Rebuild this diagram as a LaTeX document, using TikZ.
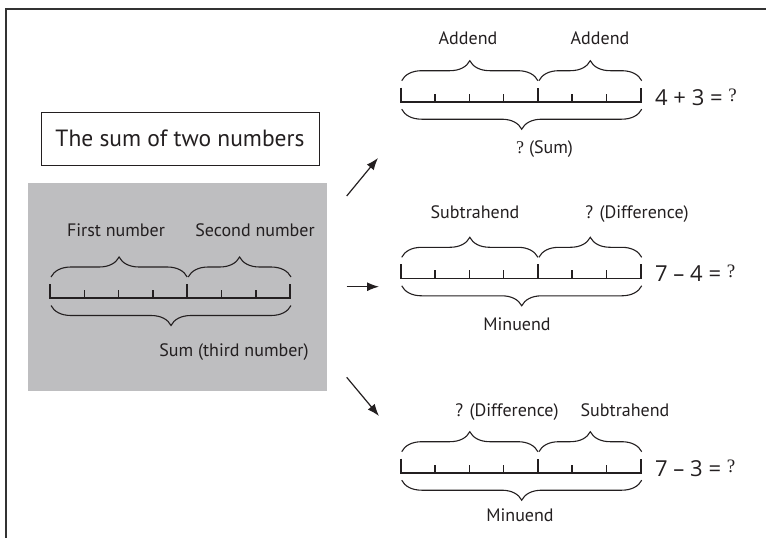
\documentclass[tikz,border=0pt]{standalone}
\usepackage{fontspec}
\setmainfont{PT Sans}
\newfontfamily\qfont{Liberation Serif}
\newfontfamily\eqfont[Ligatures=TeX]{Open Sans}
\usepackage{xcolor}
\usetikzlibrary{arrows.meta,positioning,decorations.pathreplacing}
\definecolor{ink}{RGB}{35,31,32}
\definecolor{panel}{RGB}{190,190,192}
\newcommand{\qm}{{\qfont ?}}
\newcommand{\eqq}{\raisebox{4pt}{\fontsize{19pt}{20pt}\qfont ?}}

% bar model: #1 = left end, #2 = base line (4 + 3 parts)
\newcommand{\barmodel}[2]{%
  \draw[rule] (#1,#2-14) -- (#1,#2) -- (#1+240,#2) -- (#1+240,#2-14);
  \draw[rule] (#1+137.2,#2) -- (#1+137.2,#2-14);
  \foreach \k in {1,2,3,5,6} \draw[rule] (#1+\k*34.3,#2) -- (#1+\k*34.3,#2-8);
  \draw[brc] (#1+1,#2-21) -- (#1+137.2,#2-21);
  \draw[brc] (#1+138.2,#2-21) -- (#1+241,#2-21);
  \draw[brc] (#1+241,#2+7.5) -- (#1+1,#2+7.5);
}

\begin{document}
\begin{tikzpicture}[
  x=1pt, y=-1pt,
  rule/.style={ink,line width=1.6pt},
  brc/.style={ink,line width=1.1pt,decorate,decoration={brace,amplitude=20pt}},
  ar/.style={-{Latex[length=12pt,width=9pt]},ink,line width=1.2pt},
  lbl/.style={anchor=base,inner sep=0pt,text=ink,font=\fontsize{18pt}{21pt}\selectfont},
  eq/.style={anchor=base west,inner sep=0pt,text=ink,font=\eqfont\fontsize{22pt}{26pt}\selectfont},
]
\useasboundingbox (0,0) rectangle (766,538);
\draw[line width=1.5pt,black!80] (6,538) -- (6,9) -- (766,9);

% left panel
\node[draw=ink,line width=1pt,minimum width=278pt,minimum height=53pt,inner sep=0pt,
      font=\fontsize{23.5pt}{27pt}\selectfont,text=ink] (title) at (180,138.5) {The sum of two numbers};
\node[fill=panel,minimum width=299pt,minimum height=208pt,inner sep=0pt] (panel) at (177.5,287) {};
\barmodel{50}{298}
\node[lbl] (first) at (116,236.7) {First number};
\node[lbl] (second) at (255,236.7) {Second number};
\node[lbl] (total) at (234,356.7) {Sum (third number)};

% arrows
\coordinate (a1s) at (346.7,196);   \coordinate (a1e) at (378,158);
\coordinate (a2s) at (346.7,286.7); \coordinate (a2e) at (379,286.7);
\coordinate (a3s) at (346.7,377.3); \coordinate (a3e) at (379,416);
\draw[ar] (a1s) -- (a1e);
\draw[ar] (a2s) -- (a2e);
\draw[ar] (a3s) -- (a3e);

% addition
\barmodel{400.7}{101.7}
\node[lbl] (add1) at (468,44.3) {Addend};
\node[lbl] (add2) at (600,44.3) {Addend};
\node[lbl,anchor=base west] (sum) at (516,153) {\qm\ (Sum)};
\node[eq] (eq1) at (655,105.2) {4 + 3 = \eqq};

% first subtraction
\barmodel{400.7}{278.3}
\node[lbl] (sub1) at (475,218.3) {Subtrahend};
\node[lbl] (dif1) at (637,218.3) {? (Difference)};
\node[lbl] (min1) at (517,330.7) {Minuend};
\node[eq] (eq2) at (655,281.8) {7 -- 4 = \eqq};

% second subtraction
\barmodel{400.7}{472.7}
\node[lbl] (dif2) at (507,416.7) {? (Difference)};
\node[lbl] (sub2) at (625,416.7) {Subtrahend};
\node[lbl] (min2) at (520,521.7) {Minuend};
\node[eq] (eq3) at (655,476.2) {7 -- 3 = \eqq};
\end{tikzpicture}
\end{document}
